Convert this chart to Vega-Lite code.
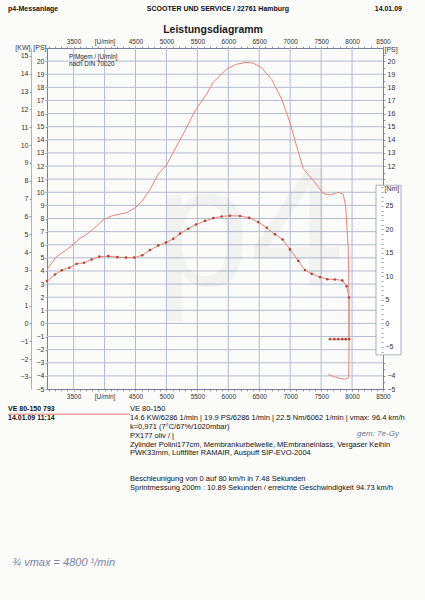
{
"$schema": "https://vega.github.io/schema/vega-lite/v6.json",
"width": 336,
"height": 341,
"autosize": {"type": "none"},
"padding": {"left": 47, "top": 48, "right": 42, "bottom": 211},
"background": "#fbfbfa",
"config": {
  "font": "Liberation Sans",
  "view": {"stroke": "#76809a", "strokeWidth": 1},
  "axis": {"labelFont": "Liberation Sans", "titleFont": "Liberation Sans", "labelFontSize": 7, "titleFontSize": 7, "titleFontWeight": "normal", "labelColor": "#333333", "titleColor": "#333333", "tickColor": "#6a7288", "tickSize": 2, "tickWidth": 0.7, "labelPadding": 1, "domain": false, "labelFlush": false, "labelOverlap": false, "labelBound": false, "grid": false}
},
"datasets": {
  "power": [
    {"i": 1, "rpm": 3070, "ps": 4.1}, {"i": 2, "rpm": 3227, "ps": 5.1}, {"i": 3, "rpm": 3469, "ps": 5.9}, {"i": 4, "rpm": 3603, "ps": 6.5}, {"i": 5, "rpm": 3684, "ps": 6.7}, {"i": 6, "rpm": 3818, "ps": 7.2}, {"i": 7, "rpm": 3980, "ps": 7.9}, {"i": 8, "rpm": 4116, "ps": 8.2}, {"i": 9, "rpm": 4358, "ps": 8.45}, {"i": 10, "rpm": 4492, "ps": 8.8}, {"i": 11, "rpm": 4600, "ps": 9.3}, {"i": 12, "rpm": 4734, "ps": 10.2}, {"i": 13, "rpm": 4869, "ps": 11.4}, {"i": 14, "rpm": 5004, "ps": 12.1}, {"i": 15, "rpm": 5138, "ps": 13.3}, {"i": 16, "rpm": 5300, "ps": 14.7}, {"i": 17, "rpm": 5462, "ps": 16.2}, {"i": 18, "rpm": 5651, "ps": 17.5}, {"i": 19, "rpm": 5758, "ps": 18.4}, {"i": 20, "rpm": 5866, "ps": 18.9}, {"i": 21, "rpm": 5974, "ps": 19.4}, {"i": 22, "rpm": 6120, "ps": 19.75}, {"i": 23, "rpm": 6286, "ps": 19.9}, {"i": 24, "rpm": 6400, "ps": 19.85}, {"i": 25, "rpm": 6540, "ps": 19.5}, {"i": 26, "rpm": 6701, "ps": 18.6}, {"i": 27, "rpm": 6863, "ps": 17.1}, {"i": 28, "rpm": 6997, "ps": 15.3}, {"i": 29, "rpm": 7105, "ps": 13.5}, {"i": 30, "rpm": 7212, "ps": 11.8}, {"i": 31, "rpm": 7373, "ps": 10.9}, {"i": 32, "rpm": 7535, "ps": 9.9}, {"i": 33, "rpm": 7643, "ps": 9.8}, {"i": 34, "rpm": 7777, "ps": 10.0}, {"i": 35, "rpm": 7858, "ps": 9.85}, {"i": 36, "rpm": 7897, "ps": 8.95}, {"i": 37, "rpm": 7939, "ps": 5.65}, {"i": 38, "rpm": 7950, "ps": 2.1}, {"i": 39, "rpm": 7952, "ps": -1.2}, {"i": 40, "rpm": 7945, "ps": -4.15}, {"i": 41, "rpm": 7880, "ps": -4.25}, {"i": 42, "rpm": 7805, "ps": -4.2}, {"i": 43, "rpm": 7700, "ps": -4.05}, {"i": 44, "rpm": 7616, "ps": -3.9}
  ],
  "torque": [
    {"i": 1, "rpm": 3070, "nm": 9.0}, {"i": 2, "rpm": 3199, "nm": 10.4}, {"i": 3, "rpm": 3308, "nm": 11.3}, {"i": 4, "rpm": 3430, "nm": 11.85}, {"i": 5, "rpm": 3550, "nm": 12.7}, {"i": 6, "rpm": 3668, "nm": 12.9}, {"i": 7, "rpm": 3792, "nm": 13.6}, {"i": 8, "rpm": 3915, "nm": 14.2}, {"i": 9, "rpm": 4061, "nm": 14.3}, {"i": 10, "rpm": 4206, "nm": 14.1}, {"i": 11, "rpm": 4347, "nm": 14.0}, {"i": 12, "rpm": 4481, "nm": 14.0}, {"i": 13, "rpm": 4610, "nm": 14.5}, {"i": 14, "rpm": 4734, "nm": 15.6}, {"i": 15, "rpm": 4869, "nm": 16.6}, {"i": 16, "rpm": 4993, "nm": 17.2}, {"i": 17, "rpm": 5111, "nm": 18.0}, {"i": 18, "rpm": 5219, "nm": 19.1}, {"i": 19, "rpm": 5353, "nm": 20.15}, {"i": 20, "rpm": 5478, "nm": 21.05}, {"i": 21, "rpm": 5623, "nm": 21.8}, {"i": 22, "rpm": 5757, "nm": 22.4}, {"i": 23, "rpm": 5893, "nm": 22.75}, {"i": 24, "rpm": 6027, "nm": 22.9}, {"i": 25, "rpm": 6189, "nm": 22.85}, {"i": 26, "rpm": 6339, "nm": 22.45}, {"i": 27, "rpm": 6485, "nm": 21.55}, {"i": 28, "rpm": 6621, "nm": 20.35}, {"i": 29, "rpm": 6755, "nm": 18.95}, {"i": 30, "rpm": 6879, "nm": 17.85}, {"i": 31, "rpm": 6997, "nm": 15.75}, {"i": 32, "rpm": 7131, "nm": 13.3}, {"i": 33, "rpm": 7239, "nm": 11.35}, {"i": 34, "rpm": 7348, "nm": 10.55}, {"i": 35, "rpm": 7482, "nm": 9.85}, {"i": 36, "rpm": 7600, "nm": 9.4}, {"i": 37, "rpm": 7724, "nm": 9.35}, {"i": 38, "rpm": 7842, "nm": 9.15}, {"i": 39, "rpm": 7913, "nm": 7.9}, {"i": 40, "rpm": 7950, "nm": 5.5}, {"i": 41, "rpm": 7950, "nm": -3.35}, {"i": 42, "rpm": 7897, "nm": -3.35}, {"i": 43, "rpm": 7842, "nm": -3.35}, {"i": 44, "rpm": 7777, "nm": -3.35}, {"i": 45, "rpm": 7713, "nm": -3.35}, {"i": 46, "rpm": 7643, "nm": -3.35}
  ]
},
"resolve": {"scale": {"y": "independent"}, "axis": {"x": "independent", "y": "independent"}},
"layer": [
  {
    "data": {"values": [{}]},
    "layer": [
      {"mark": {"type": "rule", "color": "#b3bbcf", "strokeWidth": 1}, "encoding": {"x": {"datum": 3500, "type": "quantitative", "scale": {"domain": [3070, 8500], "nice": false, "zero": false}, "axis": null}, "y": {"datum": -5, "type": "quantitative", "scale": {"domain": [-5, 21], "nice": false, "zero": false}, "axis": null}, "y2": {"datum": 21}}},
      {"mark": {"type": "rule", "color": "#b3bbcf", "strokeWidth": 1}, "encoding": {"x": {"datum": 4000, "type": "quantitative", "scale": {"domain": [3070, 8500], "nice": false, "zero": false}, "axis": null}, "y": {"datum": -5, "type": "quantitative", "scale": {"domain": [-5, 21], "nice": false, "zero": false}, "axis": null}, "y2": {"datum": 21}}},
      {"mark": {"type": "rule", "color": "#b3bbcf", "strokeWidth": 1}, "encoding": {"x": {"datum": 4500, "type": "quantitative", "scale": {"domain": [3070, 8500], "nice": false, "zero": false}, "axis": null}, "y": {"datum": -5, "type": "quantitative", "scale": {"domain": [-5, 21], "nice": false, "zero": false}, "axis": null}, "y2": {"datum": 21}}},
      {"mark": {"type": "rule", "color": "#b3bbcf", "strokeWidth": 1}, "encoding": {"x": {"datum": 5000, "type": "quantitative", "scale": {"domain": [3070, 8500], "nice": false, "zero": false}, "axis": null}, "y": {"datum": -5, "type": "quantitative", "scale": {"domain": [-5, 21], "nice": false, "zero": false}, "axis": null}, "y2": {"datum": 21}}},
      {"mark": {"type": "rule", "color": "#b3bbcf", "strokeWidth": 1}, "encoding": {"x": {"datum": 5500, "type": "quantitative", "scale": {"domain": [3070, 8500], "nice": false, "zero": false}, "axis": null}, "y": {"datum": -5, "type": "quantitative", "scale": {"domain": [-5, 21], "nice": false, "zero": false}, "axis": null}, "y2": {"datum": 21}}},
      {"mark": {"type": "rule", "color": "#b3bbcf", "strokeWidth": 1}, "encoding": {"x": {"datum": 6000, "type": "quantitative", "scale": {"domain": [3070, 8500], "nice": false, "zero": false}, "axis": null}, "y": {"datum": -5, "type": "quantitative", "scale": {"domain": [-5, 21], "nice": false, "zero": false}, "axis": null}, "y2": {"datum": 21}}},
      {"mark": {"type": "rule", "color": "#b3bbcf", "strokeWidth": 1}, "encoding": {"x": {"datum": 6500, "type": "quantitative", "scale": {"domain": [3070, 8500], "nice": false, "zero": false}, "axis": null}, "y": {"datum": -5, "type": "quantitative", "scale": {"domain": [-5, 21], "nice": false, "zero": false}, "axis": null}, "y2": {"datum": 21}}},
      {"mark": {"type": "rule", "color": "#b3bbcf", "strokeWidth": 1}, "encoding": {"x": {"datum": 7000, "type": "quantitative", "scale": {"domain": [3070, 8500], "nice": false, "zero": false}, "axis": null}, "y": {"datum": -5, "type": "quantitative", "scale": {"domain": [-5, 21], "nice": false, "zero": false}, "axis": null}, "y2": {"datum": 21}}},
      {"mark": {"type": "rule", "color": "#b3bbcf", "strokeWidth": 1}, "encoding": {"x": {"datum": 7500, "type": "quantitative", "scale": {"domain": [3070, 8500], "nice": false, "zero": false}, "axis": null}, "y": {"datum": -5, "type": "quantitative", "scale": {"domain": [-5, 21], "nice": false, "zero": false}, "axis": null}, "y2": {"datum": 21}}},
      {"mark": {"type": "rule", "color": "#b3bbcf", "strokeWidth": 1}, "encoding": {"x": {"datum": 8000, "type": "quantitative", "scale": {"domain": [3070, 8500], "nice": false, "zero": false}, "axis": null}, "y": {"datum": -5, "type": "quantitative", "scale": {"domain": [-5, 21], "nice": false, "zero": false}, "axis": null}, "y2": {"datum": 21}}},
      {"mark": {"type": "rule", "color": "#b3bbcf", "strokeWidth": 1}, "encoding": {"y": {"datum": -4, "type": "quantitative", "scale": {"domain": [-5, 21], "nice": false, "zero": false}, "axis": null}, "x": {"datum": 3070, "type": "quantitative", "scale": {"domain": [3070, 8500], "nice": false, "zero": false}, "axis": null}, "x2": {"datum": 8500}}},
      {"mark": {"type": "rule", "color": "#b3bbcf", "strokeWidth": 1}, "encoding": {"y": {"datum": -3, "type": "quantitative", "scale": {"domain": [-5, 21], "nice": false, "zero": false}, "axis": null}, "x": {"datum": 3070, "type": "quantitative", "scale": {"domain": [3070, 8500], "nice": false, "zero": false}, "axis": null}, "x2": {"datum": 8500}}},
      {"mark": {"type": "rule", "color": "#b3bbcf", "strokeWidth": 1}, "encoding": {"y": {"datum": -2, "type": "quantitative", "scale": {"domain": [-5, 21], "nice": false, "zero": false}, "axis": null}, "x": {"datum": 3070, "type": "quantitative", "scale": {"domain": [3070, 8500], "nice": false, "zero": false}, "axis": null}, "x2": {"datum": 8500}}},
      {"mark": {"type": "rule", "color": "#b3bbcf", "strokeWidth": 1}, "encoding": {"y": {"datum": -1, "type": "quantitative", "scale": {"domain": [-5, 21], "nice": false, "zero": false}, "axis": null}, "x": {"datum": 3070, "type": "quantitative", "scale": {"domain": [3070, 8500], "nice": false, "zero": false}, "axis": null}, "x2": {"datum": 8500}}},
      {"mark": {"type": "rule", "color": "#b3bbcf", "strokeWidth": 1}, "encoding": {"y": {"datum": 0, "type": "quantitative", "scale": {"domain": [-5, 21], "nice": false, "zero": false}, "axis": null}, "x": {"datum": 3070, "type": "quantitative", "scale": {"domain": [3070, 8500], "nice": false, "zero": false}, "axis": null}, "x2": {"datum": 8500}}},
      {"mark": {"type": "rule", "color": "#b3bbcf", "strokeWidth": 1}, "encoding": {"y": {"datum": 1, "type": "quantitative", "scale": {"domain": [-5, 21], "nice": false, "zero": false}, "axis": null}, "x": {"datum": 3070, "type": "quantitative", "scale": {"domain": [3070, 8500], "nice": false, "zero": false}, "axis": null}, "x2": {"datum": 8500}}},
      {"mark": {"type": "rule", "color": "#b3bbcf", "strokeWidth": 1}, "encoding": {"y": {"datum": 2, "type": "quantitative", "scale": {"domain": [-5, 21], "nice": false, "zero": false}, "axis": null}, "x": {"datum": 3070, "type": "quantitative", "scale": {"domain": [3070, 8500], "nice": false, "zero": false}, "axis": null}, "x2": {"datum": 8500}}},
      {"mark": {"type": "rule", "color": "#b3bbcf", "strokeWidth": 1}, "encoding": {"y": {"datum": 3, "type": "quantitative", "scale": {"domain": [-5, 21], "nice": false, "zero": false}, "axis": null}, "x": {"datum": 3070, "type": "quantitative", "scale": {"domain": [3070, 8500], "nice": false, "zero": false}, "axis": null}, "x2": {"datum": 8500}}},
      {"mark": {"type": "rule", "color": "#b3bbcf", "strokeWidth": 1}, "encoding": {"y": {"datum": 4, "type": "quantitative", "scale": {"domain": [-5, 21], "nice": false, "zero": false}, "axis": null}, "x": {"datum": 3070, "type": "quantitative", "scale": {"domain": [3070, 8500], "nice": false, "zero": false}, "axis": null}, "x2": {"datum": 8500}}},
      {"mark": {"type": "rule", "color": "#b3bbcf", "strokeWidth": 1}, "encoding": {"y": {"datum": 5, "type": "quantitative", "scale": {"domain": [-5, 21], "nice": false, "zero": false}, "axis": null}, "x": {"datum": 3070, "type": "quantitative", "scale": {"domain": [3070, 8500], "nice": false, "zero": false}, "axis": null}, "x2": {"datum": 8500}}},
      {"mark": {"type": "rule", "color": "#b3bbcf", "strokeWidth": 1}, "encoding": {"y": {"datum": 6, "type": "quantitative", "scale": {"domain": [-5, 21], "nice": false, "zero": false}, "axis": null}, "x": {"datum": 3070, "type": "quantitative", "scale": {"domain": [3070, 8500], "nice": false, "zero": false}, "axis": null}, "x2": {"datum": 8500}}},
      {"mark": {"type": "rule", "color": "#b3bbcf", "strokeWidth": 1}, "encoding": {"y": {"datum": 7, "type": "quantitative", "scale": {"domain": [-5, 21], "nice": false, "zero": false}, "axis": null}, "x": {"datum": 3070, "type": "quantitative", "scale": {"domain": [3070, 8500], "nice": false, "zero": false}, "axis": null}, "x2": {"datum": 8500}}},
      {"mark": {"type": "rule", "color": "#b3bbcf", "strokeWidth": 1}, "encoding": {"y": {"datum": 8, "type": "quantitative", "scale": {"domain": [-5, 21], "nice": false, "zero": false}, "axis": null}, "x": {"datum": 3070, "type": "quantitative", "scale": {"domain": [3070, 8500], "nice": false, "zero": false}, "axis": null}, "x2": {"datum": 8500}}},
      {"mark": {"type": "rule", "color": "#b3bbcf", "strokeWidth": 1}, "encoding": {"y": {"datum": 9, "type": "quantitative", "scale": {"domain": [-5, 21], "nice": false, "zero": false}, "axis": null}, "x": {"datum": 3070, "type": "quantitative", "scale": {"domain": [3070, 8500], "nice": false, "zero": false}, "axis": null}, "x2": {"datum": 8500}}},
      {"mark": {"type": "rule", "color": "#b3bbcf", "strokeWidth": 1}, "encoding": {"y": {"datum": 10, "type": "quantitative", "scale": {"domain": [-5, 21], "nice": false, "zero": false}, "axis": null}, "x": {"datum": 3070, "type": "quantitative", "scale": {"domain": [3070, 8500], "nice": false, "zero": false}, "axis": null}, "x2": {"datum": 8500}}},
      {"mark": {"type": "rule", "color": "#b3bbcf", "strokeWidth": 1}, "encoding": {"y": {"datum": 11, "type": "quantitative", "scale": {"domain": [-5, 21], "nice": false, "zero": false}, "axis": null}, "x": {"datum": 3070, "type": "quantitative", "scale": {"domain": [3070, 8500], "nice": false, "zero": false}, "axis": null}, "x2": {"datum": 8500}}},
      {"mark": {"type": "rule", "color": "#b3bbcf", "strokeWidth": 1}, "encoding": {"y": {"datum": 12, "type": "quantitative", "scale": {"domain": [-5, 21], "nice": false, "zero": false}, "axis": null}, "x": {"datum": 3070, "type": "quantitative", "scale": {"domain": [3070, 8500], "nice": false, "zero": false}, "axis": null}, "x2": {"datum": 8500}}},
      {"mark": {"type": "rule", "color": "#b3bbcf", "strokeWidth": 1}, "encoding": {"y": {"datum": 13, "type": "quantitative", "scale": {"domain": [-5, 21], "nice": false, "zero": false}, "axis": null}, "x": {"datum": 3070, "type": "quantitative", "scale": {"domain": [3070, 8500], "nice": false, "zero": false}, "axis": null}, "x2": {"datum": 8500}}},
      {"mark": {"type": "rule", "color": "#b3bbcf", "strokeWidth": 1}, "encoding": {"y": {"datum": 14, "type": "quantitative", "scale": {"domain": [-5, 21], "nice": false, "zero": false}, "axis": null}, "x": {"datum": 3070, "type": "quantitative", "scale": {"domain": [3070, 8500], "nice": false, "zero": false}, "axis": null}, "x2": {"datum": 8500}}},
      {"mark": {"type": "rule", "color": "#b3bbcf", "strokeWidth": 1}, "encoding": {"y": {"datum": 15, "type": "quantitative", "scale": {"domain": [-5, 21], "nice": false, "zero": false}, "axis": null}, "x": {"datum": 3070, "type": "quantitative", "scale": {"domain": [3070, 8500], "nice": false, "zero": false}, "axis": null}, "x2": {"datum": 8500}}},
      {"mark": {"type": "rule", "color": "#b3bbcf", "strokeWidth": 1}, "encoding": {"y": {"datum": 16, "type": "quantitative", "scale": {"domain": [-5, 21], "nice": false, "zero": false}, "axis": null}, "x": {"datum": 3070, "type": "quantitative", "scale": {"domain": [3070, 8500], "nice": false, "zero": false}, "axis": null}, "x2": {"datum": 8500}}},
      {"mark": {"type": "rule", "color": "#b3bbcf", "strokeWidth": 1}, "encoding": {"y": {"datum": 17, "type": "quantitative", "scale": {"domain": [-5, 21], "nice": false, "zero": false}, "axis": null}, "x": {"datum": 3070, "type": "quantitative", "scale": {"domain": [3070, 8500], "nice": false, "zero": false}, "axis": null}, "x2": {"datum": 8500}}},
      {"mark": {"type": "rule", "color": "#b3bbcf", "strokeWidth": 1}, "encoding": {"y": {"datum": 18, "type": "quantitative", "scale": {"domain": [-5, 21], "nice": false, "zero": false}, "axis": null}, "x": {"datum": 3070, "type": "quantitative", "scale": {"domain": [3070, 8500], "nice": false, "zero": false}, "axis": null}, "x2": {"datum": 8500}}},
      {"mark": {"type": "rule", "color": "#b3bbcf", "strokeWidth": 1}, "encoding": {"y": {"datum": 19, "type": "quantitative", "scale": {"domain": [-5, 21], "nice": false, "zero": false}, "axis": null}, "x": {"datum": 3070, "type": "quantitative", "scale": {"domain": [3070, 8500], "nice": false, "zero": false}, "axis": null}, "x2": {"datum": 8500}}},
      {"mark": {"type": "rule", "color": "#b3bbcf", "strokeWidth": 1}, "encoding": {"y": {"datum": 20, "type": "quantitative", "scale": {"domain": [-5, 21], "nice": false, "zero": false}, "axis": null}, "x": {"datum": 3070, "type": "quantitative", "scale": {"domain": [3070, 8500], "nice": false, "zero": false}, "axis": null}, "x2": {"datum": 8500}}}
    ]
  },
  {
    "data": {"values": [{}]},
    "layer": [
      {"mark": {"type": "text", "text": "p4", "fontSize": 170, "font": "Liberation Sans", "color": "#000000", "opacity": 0.03, "align": "center", "baseline": "middle"},
       "encoding": {"x": {"datum": 6351, "type": "quantitative", "scale": {"domain": [3070, 8500], "nice": false, "zero": false}, "axis": null}, "y": {"datum": 6.74, "type": "quantitative", "scale": {"domain": [-5, 21], "nice": false, "zero": false}, "axis": null}}},
      {"mark": {"type": "text", "text": "p4-Messanlage", "fontSize": 7, "fontWeight": "bold", "color": "#111111", "align": "left", "baseline": "middle"},
       "encoding": {"x": {"datum": 2440, "type": "quantitative", "scale": {"domain": [3070, 8500], "nice": false, "zero": false}, "axis": null}, "y": {"datum": 23.97, "type": "quantitative", "scale": {"domain": [-5, 21], "nice": false, "zero": false}, "axis": null}}},
      {"mark": {"type": "text", "text": "SCOOTER UND SERVICE / 22761 Hamburg", "fontSize": 7, "fontWeight": "bold", "color": "#111111", "align": "center", "baseline": "middle"},
       "encoding": {"x": {"datum": 5833, "type": "quantitative", "scale": {"domain": [3070, 8500], "nice": false, "zero": false}, "axis": null}, "y": {"datum": 23.97, "type": "quantitative", "scale": {"domain": [-5, 21], "nice": false, "zero": false}, "axis": null}}},
      {"mark": {"type": "text", "text": "14.01.09", "fontSize": 7, "fontWeight": "bold", "color": "#111111", "align": "right", "baseline": "middle"},
       "encoding": {"x": {"datum": 8807, "type": "quantitative", "scale": {"domain": [3070, 8500], "nice": false, "zero": false}, "axis": null}, "y": {"datum": 23.97, "type": "quantitative", "scale": {"domain": [-5, 21], "nice": false, "zero": false}, "axis": null}}},
      {"mark": {"type": "text", "text": "Leistungsdiagramm", "fontSize": 10.5, "fontWeight": "bold", "color": "#1a1a1a", "align": "center", "baseline": "middle"},
       "encoding": {"x": {"datum": 5753, "type": "quantitative", "scale": {"domain": [3070, 8500], "nice": false, "zero": false}, "axis": null}, "y": {"datum": 22.37, "type": "quantitative", "scale": {"domain": [-5, 21], "nice": false, "zero": false}, "axis": null}}},
      {"mark": {"type": "text", "text": ["P/Mgem / [U/min]", "nach DIN 70020"], "fontSize": 6.3, "lineHeight": 6.5, "color": "#222222", "align": "left", "baseline": "top"},
       "encoding": {"x": {"datum": 3425, "type": "quantitative", "scale": {"domain": [3070, 8500], "nice": false, "zero": false}, "axis": null}, "y": {"datum": 20.54, "type": "quantitative", "scale": {"domain": [-5, 21], "nice": false, "zero": false}, "axis": null}}},
      {"mark": {"type": "text", "text": ["VE 80-150 793", "14.01.09  11:14"], "fontSize": 7, "lineHeight": 8.8, "fontWeight": "bold", "color": "#111111", "align": "left", "baseline": "top"},
       "encoding": {"x": {"datum": 2440, "type": "quantitative", "scale": {"domain": [3070, 8500], "nice": false, "zero": false}, "axis": null}, "y": {"datum": -6.25, "type": "quantitative", "scale": {"domain": [-5, 21], "nice": false, "zero": false}, "axis": null}}},
      {"mark": {"type": "rule", "color": "#e05a4a", "strokeWidth": 0.8},
       "encoding": {"x": {"datum": 2440, "type": "quantitative", "scale": {"domain": [3070, 8500], "nice": false, "zero": false}, "axis": null}, "x2": {"datum": 4411}, "y": {"datum": -6.92, "type": "quantitative", "scale": {"domain": [-5, 21], "nice": false, "zero": false}, "axis": null}}},
      {"mark": {"type": "text", "text": ["VE 80-150", "14.6 KW/6286 1/min  |  19.9 PS/6286 1/min  |  22.5 Nm/6062 1/min | vmax: 96.4 km/h", "k=0,971 (7°C/67%/1020mbar)", "PX177 oliv / |", "Zylinder Polini177cm, Membrankurbelwelle, MEmbraneinlass, Vergaser Keihin", "PWK33mm, Luftfilter RAMAIR, Auspuff SIP-EVO-2004"], "fontSize": 7.5, "lineHeight": 8.8, "color": "#111111", "align": "left", "baseline": "top"},
       "encoding": {"x": {"datum": 4411, "type": "quantitative", "scale": {"domain": [3070, 8500], "nice": false, "zero": false}, "axis": null}, "y": {"datum": -6.25, "type": "quantitative", "scale": {"domain": [-5, 21], "nice": false, "zero": false}, "axis": null}}},
      {"mark": {"type": "text", "text": ["Beschleunigung von 0 auf 80 km/h in 7.48 Sekunden", "Sprintmessung 200m : 10.89 Sekunden / erreichte Geschwindigkeit 94.73 km/h"], "fontSize": 7.5, "lineHeight": 8.8, "color": "#111111", "align": "left", "baseline": "top"},
       "encoding": {"x": {"datum": 4411, "type": "quantitative", "scale": {"domain": [3070, 8500], "nice": false, "zero": false}, "axis": null}, "y": {"datum": -11.56, "type": "quantitative", "scale": {"domain": [-5, 21], "nice": false, "zero": false}, "axis": null}}},
      {"mark": {"type": "text", "text": "gem: 7e-Gy", "fontSize": 8, "fontStyle": "italic", "color": "#6a7590", "align": "center", "baseline": "middle"},
       "encoding": {"x": {"datum": 8419, "type": "quantitative", "scale": {"domain": [3070, 8500], "nice": false, "zero": false}, "axis": null}, "y": {"datum": -8.4, "type": "quantitative", "scale": {"domain": [-5, 21], "nice": false, "zero": false}, "axis": null}}},
      {"mark": {"type": "text", "text": "¾ vmax = 4800 ¹/min", "fontSize": 11, "fontStyle": "italic", "color": "#7a85a0", "align": "left", "baseline": "middle"},
       "encoding": {"x": {"datum": 2504, "type": "quantitative", "scale": {"domain": [3070, 8500], "nice": false, "zero": false}, "axis": null}, "y": {"datum": -18.27, "type": "quantitative", "scale": {"domain": [-5, 21], "nice": false, "zero": false}, "axis": null}}}
    ]
  },
  {
    "data": {"values": [{}]},
    "mark": {"type": "rect", "fill": "#ffffff", "stroke": "#9a9fab", "strokeWidth": 0.8},
    "encoding": {
      "x": {"datum": 8387, "type": "quantitative", "scale": {"domain": [3070, 8500], "nice": false, "zero": false}, "axis": null},
      "x2": {"datum": 8791},
      "y": {"datum": 29.4, "type": "quantitative", "scale": {"domain": [-13.96, 58.6], "nice": false, "zero": false}, "axis": null},
      "y2": {"datum": -6.7}
    }
  },
  {
    "data": {"name": "power"},
    "mark": {"type": "line", "color": "#e3857a", "strokeWidth": 1},
    "encoding": {
      "x": {"field": "rpm", "type": "quantitative", "scale": {"domain": [3070, 8500], "nice": false, "zero": false},
        "axis": {"orient": "bottom", "tickCount": 54, "format": "d", "labelExpr": "datum.value == 4000 ? '[U/min]' : ((datum.value % 500 == 0 && datum.value >= 3500) ? datum.label : '')", "labelFontSize": 6.5, "labelPadding": 2, "title": null}},
      "y": {"field": "ps", "type": "quantitative", "scale": {"domain": [-5, 21], "nice": false, "zero": false},
        "axis": {"orient": "left", "tickCount": 130, "format": "d", "labelExpr": "(datum.value % 1 == 0 && datum.value <= 20) ? datum.label : ''", "title": "[PS]", "titleAngle": 0, "titleAlign": "right", "titleBaseline": "middle", "titleX": -1, "titleY": -1}},
      "order": {"field": "i", "type": "quantitative"}
    }
  },
  {
    "data": {"name": "torque"},
    "mark": {"type": "line", "color": "#e3857a", "strokeWidth": 1, "point": {"filled": true, "size": 7, "color": "#b5473a"}},
    "encoding": {
      "x": {"field": "rpm", "type": "quantitative", "scale": {"domain": [3070, 8500], "nice": false, "zero": false}, "axis": null},
      "y": {"field": "nm", "type": "quantitative", "scale": {"domain": [-13.96, 58.6], "nice": false, "zero": false},
        "axis": {"orient": "right", "offset": -2, "zindex": 1, "values": [-6, -5, -4, -3, -2, -1, 0, 1, 2, 3, 4, 5, 6, 7, 8, 9, 10, 11, 12, 13, 14, 15, 16, 17, 18, 19, 20, 21, 22, 23, 24, 25, 26, 27, 28, 29], "format": "d", "labelExpr": "datum.value % 5 == 0 ? datum.label : ''", "labelPadding": 2, "title": "[Nm]", "titleAngle": 0, "titleAlign": "left", "titleBaseline": "middle", "titleX": 3, "titleY": 140}},
      "order": {"field": "i", "type": "quantitative"}
    }
  },
  {
    "data": {"values": [{}]},
    "mark": {"type": "point", "opacity": 0},
    "encoding": {
      "x": {"datum": 5000, "type": "quantitative", "scale": {"domain": [3070, 8500], "nice": false, "zero": false}, "axis": null},
      "y": {"datum": 0, "type": "quantitative", "scale": {"domain": [-3.6775, 15.4455], "nice": false, "zero": false},
        "axis": {"orient": "left", "offset": 16, "tickCount": 95, "format": "d", "labelExpr": "datum.value % 1 == 0 ? datum.label : ''", "title": "[KW]", "titleAngle": 0, "titleAlign": "right", "titleBaseline": "middle", "titleX": -1, "titleY": -1, "domain": true, "domainColor": "#8a92a8", "domainWidth": 0.7}}
    }
  },
  {
    "data": {"values": [{}]},
    "mark": {"type": "point", "opacity": 0},
    "encoding": {
      "x": {"datum": 5000, "type": "quantitative", "scale": {"domain": [3070, 8500], "nice": false, "zero": false}, "axis": null},
      "y": {"datum": 0, "type": "quantitative", "scale": {"domain": [-5, 21], "nice": false, "zero": false},
        "axis": {"orient": "right", "zindex": 1, "values": [-5, -4.5, -4, -3.5, -3, 11, 11.5, 12, 12.5, 13, 13.5, 14, 14.5, 15, 15.5, 16, 16.5, 17, 17.5, 18, 18.5, 19, 19.5, 20, 20.5], "format": "d", "labelExpr": "(datum.value % 1 == 0 && (datum.value >= 12 || datum.value <= -4)) ? datum.label : ''", "labelPadding": 2, "title": "[PS]", "titleAngle": 0, "titleAlign": "left", "titleBaseline": "middle", "titleX": 1, "titleY": 1}}
    }
  },
  {
    "data": {"values": [{}]},
    "mark": {"type": "point", "opacity": 0},
    "encoding": {
      "x": {"datum": 5000, "type": "quantitative", "scale": {"domain": [3070, 8500], "nice": false, "zero": false},
        "axis": {"orient": "top", "tickCount": 54, "format": "d", "labelExpr": "datum.value == 4000 ? '[U/min]' : ((datum.value % 500 == 0 && datum.value >= 3500) ? datum.label : '')", "labelFontSize": 6.5, "labelPadding": 2, "title": null}},
      "y": {"datum": 0, "type": "quantitative", "scale": {"domain": [-5, 21], "nice": false, "zero": false}, "axis": null}
    }
  }
]
}
